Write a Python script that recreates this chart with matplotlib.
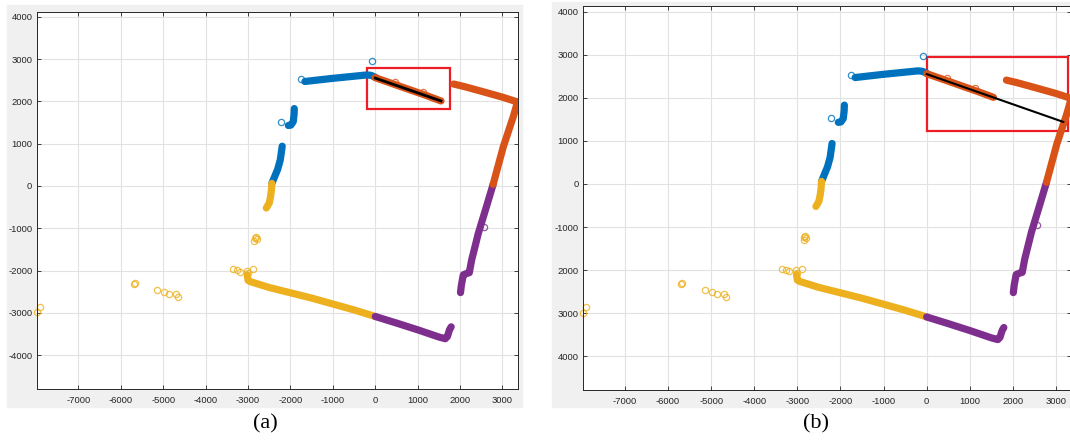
import matplotlib
matplotlib.use('Agg')
import matplotlib.pyplot as plt
from matplotlib.patches import Rectangle

plt.rcParams['font.family'] = 'Liberation Sans'
plt.rcParams['axes.unicode_minus'] = False

# colored bands (path vertices)
blue_top_x = [-1660, -1400, -1000, -600, -200, -100, 0]
blue_top_y = [2470, 2500, 2545, 2585, 2625, 2615, 2570]
blue_mid_x = [-1910, -1915, -1935, -1990, -2050]
blue_mid_y = [1830, 1700, 1520, 1440, 1430]
blue_low_x = [-2195, -2215, -2240, -2300, -2370, -2440]
blue_low_y = [940, 800, 620, 400, 230, 60]
yellow_up_x = [-2440, -2450, -2470, -2500, -2570]
yellow_up_y = [60, -100, -250, -400, -520]
yellow_main_x = [-3020, -3000, -2950, -2500, -1500, -500, 0]
yellow_main_y = [-2100, -2230, -2260, -2400, -2650, -2930, -3085]
purple_bot_x = [0, 500, 1000, 1500, 1650, 1700, 1750, 1790]
purple_bot_y = [-3085, -3240, -3400, -3570, -3610, -3560, -3400, -3330]
purple_right_x = [2010, 2030, 2076, 2150, 2217, 2273, 2430, 2600, 2780]
purple_right_y = [-2520, -2350, -2100, -2070, -2050, -1750, -1120, -560, 40]
orange_right_x = [2780, 3020, 3255, 3330, 3340]
orange_right_y = [40, 930, 1640, 1900, 1990]
orange_top_x = [3340, 3000, 2500, 2100, 1850]
orange_top_y = [1990, 2100, 2240, 2350, 2410]
orange_box_x = [0, 400, 800, 1200, 1550]
orange_box_y = [2560, 2420, 2280, 2140, 2010]

# loose circles
blue_out_x = [-85, -2231, -1752]
blue_out_y = [2962, 1520, 2530]
yellow_out_x = [-2837, -2820, -2850, -2800, -3349, -3269, -3191, -3033, -2892, -3000,
                -5691, -5670, -5148, -4987, -4866, -4705, -4649, -7975, -7908]
yellow_out_y = [-1237, -1200, -1300, -1250, -1970, -1986, -2026, -2002, -1970, -2060,
                -2324, -2300, -2460, -2499, -2562, -2554, -2617, -2986, -2853]
orange_out_x = [465, 1118]
orange_out_y = [2466, 2229]
purple_out_x = [2563]
purple_out_y = [-962]

# fitted line and highlight box per panel
line_a_x = [0, 1550]
line_a_y = [2550, 2010]
line_b_x = [0, 3170]
line_b_y = [2550, 1440]
box_a = (-200, 1820, 1960, 965)
box_b = (0, 1222, 3280, 1728)

xticks = [-7000, -6000, -5000, -4000, -3000, -2000, -1000, 0, 1000, 2000, 3000]
yticks = [-4000, -3000, -2000, -1000, 0, 1000, 2000, 3000, 4000]
ylabels_a = ['-4000', '-3000', '-2000', '-1000', '0', '1000', '2000', '3000', '4000']
ylabels_b = ['4000', '3000', '2000', '-1000', '0', '1000', '2000', '3000', '4000']

c_blue = '#0072BD'
c_orange = '#D95319'
c_yellow = '#EDB120'
c_purple = '#7E2F8E'

W, H = 1070, 442
fig = plt.figure(figsize=(W / 100, H / 100), dpi=100)

# grey panel backgrounds
fig.add_artist(Rectangle((7 / W, 35 / H), 515 / W, 402 / H, transform=fig.transFigure,
                         color='#f0f0f0', zorder=-1))
fig.add_artist(Rectangle((552 / W, 35 / H), 518 / W, 405 / H, transform=fig.transFigure,
                         color='#f0f0f0', zorder=-1))


def draw_panel(ax, line_x, line_y, box, ylabels, xlim, ylim, lw_line):
    bands = [(blue_top_x, blue_top_y, c_blue), (blue_mid_x, blue_mid_y, c_blue),
             (blue_low_x, blue_low_y, c_blue), (yellow_up_x, yellow_up_y, c_yellow),
             (yellow_main_x, yellow_main_y, c_yellow), (purple_bot_x, purple_bot_y, c_purple),
             (purple_right_x, purple_right_y, c_purple), (orange_right_x, orange_right_y, c_orange),
             (orange_top_x, orange_top_y, c_orange), (orange_box_x, orange_box_y, c_orange)]
    for bx, by, c in bands:
        ax.plot(bx, by, color=c, lw=5.2, solid_capstyle='round', solid_joinstyle='round')
    for ox, oy, c in [(blue_out_x, blue_out_y, c_blue), (yellow_out_x, yellow_out_y, c_yellow),
                      (orange_out_x, orange_out_y, c_orange), (purple_out_x, purple_out_y, c_purple)]:
        ax.plot(ox, oy, 'o', mfc='none', mec=c, ms=4.5, mew=0.9, alpha=0.8, clip_on=False)
    ax.plot(line_x, line_y, color='k', lw=lw_line)
    ax.add_patch(Rectangle((box[0], box[1]), box[2], box[3], fill=False, ec='#ee1c25', lw=1.6))

    ax.set_xlim(xlim)
    ax.set_ylim(ylim)
    ax.set_xticks(xticks)
    ax.set_yticks(yticks)
    ax.set_yticklabels(ylabels)
    ax.grid(True, color='#e2e2e2', lw=0.8)
    ax.set_axisbelow(True)
    ax.tick_params(direction='in', length=3, width=0.6, colors='#262626', labelsize=6.8,
                   top=True, right=True, pad=3)
    ax.tick_params(axis='x', pad=5)
    for s in ax.spines.values():
        s.set_color('#262626')
        s.set_linewidth(0.7)


# panel (a)
ax1 = fig.add_axes([36.5 / W, 53 / H, 481.5 / W, 377 / H])
draw_panel(ax1, line_a_x, line_a_y, box_a, ylabels_a, (-7990, 3366), (-4799, 4113), 2.0)

# panel (b)
ax2 = fig.add_axes([582.7 / W, 52 / H, 488.5 / W, 384 / H])
draw_panel(ax2, line_b_x, line_b_y, box_b, ylabels_b, (-7981, 3353), (-4780, 4130), 1.5)

fig.text(265 / W, 1 - 424 / H, '(a)', family='Liberation Serif', fontsize=16,
         ha='center', va='center')
fig.text(816 / W, 1 - 424 / H, '(b)', family='Liberation Serif', fontsize=16,
         ha='center', va='center')

fig.savefig('out.png', dpi=100)
